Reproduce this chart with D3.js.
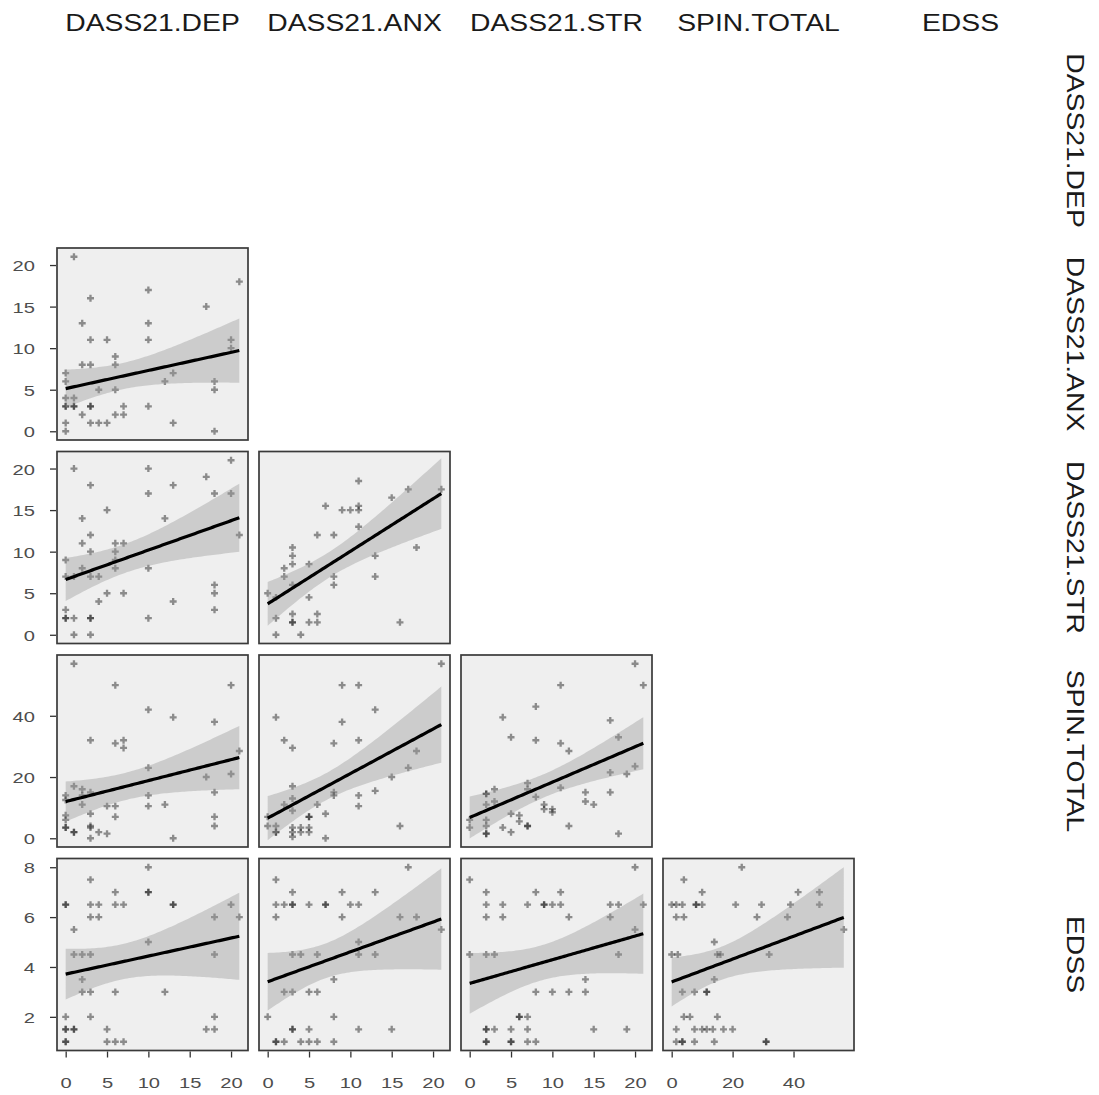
<!DOCTYPE html>
<html>
<head>
<meta charset="utf-8">
<title>pairs</title>
<style>
  body { margin: 0; background: #fff; }
  svg { display: block; font-family: "Liberation Sans", Arial, sans-serif; }
</style>
</head>
<body>
<svg id="chart" width="1099" height="1095"></svg>
<script src="https://d3js.org/d3.v7.min.js"></script>
<script>
// variable names, ranges, ticks
const varNames = ["DASS21.DEP", "DASS21.ANX", "DASS21.STR", "SPIN.TOTAL", "EDSS"];
const varRanges = [[0, 21], [0, 21], [0, 21], [0, 57], [1, 8]];
const varTicks = [[0, 5, 10, 15, 20], [0, 5, 10, 15, 20], [0, 5, 10, 15, 20], [0, 20, 40], [2, 4, 6, 8]];

// points per panel [x, y]
const depAnx = [[1,21],[0,7],[0,6],[0,4],[1,4],[0,3],[0,3],[1,3],[1,3],[3,3],[3,3],[0,1],[0,0],[2,2],[2,13],[2,8],[3,8],[3,16],[3,11],[3,1],[4,1],[5,1],[4,5],[5,11],[6,9],[6,8],[6,5],[6,2],[7,3],[7,2],[10,17],[10,13],[10,11],[10,3],[12,6],[13,7],[13,1],[17,15],[18,6],[18,5],[18,0],[20,11],[20,10],[21,18]];
const depStr = [[0,9],[0,7],[0,3],[0,2],[0,2],[1,20],[1,7],[1,2],[1,0],[2,14],[2,11],[2,8],[3,18],[3,12],[3,10],[3,7],[3,2],[3,2],[3,0],[4,7],[4,4],[5,15],[5,5],[6,11],[6,10],[6,9],[6,8],[7,11],[7,5],[10,20],[10,17],[10,8],[10,2],[12,14],[13,18],[13,4],[17,19],[18,17],[18,6],[18,5],[18,3],[20,21],[20,17],[21,12]];
const anxStr = [[0,5],[1,4.5],[1,2],[1,0],[2,8],[2,7],[3,10.5],[3,9.5],[3,8.5],[3,6],[3,2.5],[3,1.5],[3,1.5],[4,0],[5,8.5],[5,4.5],[5,1.5],[6,12],[6,2.5],[6,1.5],[7,15.5],[8,12],[8,7],[8,6],[9,15],[10,15],[11,18.5],[11,15.5],[11,15],[11,13],[13,9.5],[13,7],[15,16.5],[16,1.5],[17,17.5],[18,10.5],[21,17.5]];
const depSpin = [[1,57],[6,50],[20,50],[10,42],[13,39.5],[18,38],[3,32],[6,31],[7,32],[7,29.5],[21,28.5],[10,23],[20,21],[17,20],[1,17],[2,16],[2,14],[0,14],[0,12.5],[3,15],[10,14],[18,15],[2,11],[5,10.5],[6,10.5],[10,10.5],[12,11],[0,7.5],[0,6],[3,8],[6,7],[3,4],[3,3.5],[1,2],[1,2],[4,2],[5,1.5],[3,0],[13,0],[18,7],[18,4],[0,3.5],[0,3.5]];
const anxSpin = [[21,57],[9,50],[11,50],[1,39.5],[9,38],[13,42],[2,32],[3,29.5],[8,31],[11,32],[18,28.5],[17,23],[15,20],[3,17],[3,13],[8,15],[8,14],[11,14],[13,15.5],[2,11],[3,9],[6,11],[7,8],[11,10.5],[16,4],[0,7],[0,4],[1,4],[1,2],[1,2],[3,3.5],[3,2],[3,0.5],[4,3.5],[4,2],[5,7],[5,7],[5,3.5],[5,2],[7,0]];
const strSpin = [[20,57],[21,50],[11,50],[8,43],[4,39.5],[17,38.5],[5,33],[8,32],[11,31],[12,28.5],[18,33],[17,21.5],[20,23.5],[19,21],[7,18],[7,16],[3,16],[2,14.5],[2,14.5],[11,16.5],[3,12],[2,11],[8,13.5],[9,11],[9,9.5],[10,9.5],[10,8.5],[14,15],[14,12],[15,11],[17,15],[0,6],[0,3.5],[2,6],[2,4],[2,1.5],[2,1.5],[5,8],[6,7.5],[6,5.5],[4,3.5],[5,2],[7,4],[7,4],[12,4],[18,1.5]];
const depEdss = [[10,8],[3,7.5],[6,7],[10,7],[10,7],[0,6.5],[0,6.5],[3,6.5],[4,6.5],[6,6.5],[7,6.5],[13,6.5],[13,6.5],[20,6.5],[3,6],[4,6],[18,6],[21,6],[1,5.5],[10,5],[1,4.5],[2,4.5],[3,4.5],[18,4.5],[2,3.5],[2,3],[3,3],[6,3],[12,3],[0,2],[3,2],[18,2],[0,1.5],[0,1.5],[1,1.5],[1,1.5],[5,1.5],[17,1.5],[18,1.5],[0,1],[0,1],[5,1],[6,1],[7,1]];
const anxEdss = [[1,7.5],[3,7],[9,7],[13,7],[17,8],[1,6.5],[2,6.5],[3,6.5],[3,6.5],[5,6.5],[7,6.5],[7,6.5],[10,6.5],[11,6.5],[1,6],[9,6],[16,6],[18,6],[21,5.5],[11,5],[3,4.5],[4,4.5],[6,4.5],[11,4.5],[13,4.5],[8,3.5],[2,3],[3,3],[5,3],[6,3],[0,2],[8,2],[3,1.5],[3,1.5],[5,1.5],[11,1.5],[15,1.5],[1,1],[1,1],[2,1],[4,1],[5,1],[6,1],[8,1]];
const strEdss = [[0,7.5],[20,8],[2,7],[8,7],[11,7],[2,6.5],[4,6.5],[7,6.5],[9,6.5],[9,6.5],[10,6.5],[11,6.5],[17,6.5],[18,6.5],[21,6.5],[2,6],[4,6],[12,6],[17,6],[20,5.5],[0,4.5],[2,4.5],[3,4.5],[18,4.5],[14,3.5],[8,3],[10,3],[12,3],[14,3],[6,2],[6,2],[7,2],[2,1.5],[2,1.5],[3,1.5],[5,1.5],[7,1.5],[15,1.5],[19,1.5],[2,1],[2,1],[5,1],[5,1],[7,1],[8,1]];
const spinEdss = [[23,8],[4,7.5],[10,7],[41.5,7],[48.5,7],[0,6.5],[1.5,6.5],[3.5,6.5],[8,6.5],[8,6.5],[10,6.5],[21,6.5],[29.5,6.5],[39,6.5],[48.5,6.5],[1.5,6],[4,6],[28,6],[38,6],[56.5,5.5],[14,5],[0,4.5],[2,4.5],[15,4.5],[16,4.5],[32,4.5],[14,3.5],[3.5,3],[7.5,3],[11.5,3],[11.5,3],[4,2],[6,2],[15,2],[1.5,1.5],[7.5,1.5],[10,1.5],[11.5,1.5],[13.5,1.5],[17,1.5],[20,1.5],[1.5,1],[3.5,1],[3.5,1],[7.5,1],[14,1],[31,1],[31,1]];

// [row, col, points]
const panels = [
  [1, 0, depAnx],
  [2, 0, depStr], [2, 1, anxStr],
  [3, 0, depSpin], [3, 1, anxSpin], [3, 2, strSpin],
  [4, 0, depEdss], [4, 1, anxEdss], [4, 2, strEdss], [4, 3, spinEdss]
];

const svg = d3.select("#chart");
const colX0 = 57, colStep = 202, pw = 191;
const rowY0 = 44.5, rowStep = 203.5, ph = 192;

function expand(r) {
  const p = (r[1] - r[0]) * 0.05;
  return [r[0] - p, r[1] + p];
}

// t quantile approx (0.975)
function tq(df) {
  const z = 1.959964;
  return z + (z ** 3 + z) / (4 * df) + (5 * z ** 5 + 16 * z ** 3 + 3 * z) / (96 * df * df);
}

function fit(pts) {
  const n = pts.length;
  const mx = d3.mean(pts, d => d[0]), my = d3.mean(pts, d => d[1]);
  let sxx = 0, sxy = 0;
  pts.forEach(d => { sxx += (d[0] - mx) ** 2; sxy += (d[0] - mx) * (d[1] - my); });
  const b = sxy / sxx, a = my - b * mx;
  let sse = 0;
  pts.forEach(d => { sse += (d[1] - a - b * d[0]) ** 2; });
  const s = Math.sqrt(sse / (n - 2)), t = tq(n - 2);
  const [x0, x1] = d3.extent(pts, d => d[0]);
  return d3.range(80).map(i => {
    const x = x0 + (x1 - x0) * i / 79;
    const y = a + b * x;
    const se = s * Math.sqrt(1 / n + (x - mx) ** 2 / sxx);
    return { x, y, lo: y - t * se, hi: y + t * se };
  });
}

const cross = d3.symbol().type(d3.symbolCross).size(27);

panels.forEach(([r, c, pts]) => {
  const left = colX0 + c * colStep, top = rowY0 + r * rowStep;
  const x = d3.scaleLinear().domain(expand(varRanges[c])).range([left, left + pw]);
  const y = d3.scaleLinear().domain(expand(varRanges[r])).range([top + ph, top]);
  const g = svg.append("g");
  g.append("rect").attr("x", left).attr("y", top).attr("width", pw).attr("height", ph)
    .attr("fill", "#efefef");
  g.selectAll("path.pt").data(pts).enter().append("path")
    .attr("class", "pt")
    .attr("d", cross)
    .attr("transform", d => `translate(${x(d[0])},${y(d[1])})`)
    .attr("fill", "#000").attr("fill-opacity", 0.42);
  const f = fit(pts);
  g.append("path").datum(f)
    .attr("d", d3.area().x(d => x(d.x)).y0(d => y(d.lo)).y1(d => y(d.hi)))
    .attr("fill", "#999").attr("fill-opacity", 0.4);
  g.append("path").datum(f)
    .attr("d", d3.line().x(d => x(d.x)).y(d => y(d.y)))
    .attr("fill", "none").attr("stroke", "#000").attr("stroke-width", 3.2);
  g.append("rect").attr("x", left).attr("y", top).attr("width", pw).attr("height", ph)
    .attr("fill", "none").attr("stroke", "#3a3a3a").attr("stroke-width", 1.7);

  // left axis for first column
  if (c === 0) {
    const ya = svg.append("g").attr("transform", `translate(${left - 1},0)`)
      .call(d3.axisLeft(y).tickValues(varTicks[r]).tickSize(6).tickPadding(6));
    ya.select(".domain").remove();
    ya.selectAll("line").attr("stroke", "#333").attr("stroke-width", 1.3);
    ya.selectAll("text").attr("fill", "#4d4d4d").attr("font-size", 15.5)
      .attr("font-family", "Liberation Sans, Arial, sans-serif")
      .attr("x", 0).attr("dy", "0.36em")
      .attr("transform", "translate(-21,0) scale(1.3,1)");
  }
  // bottom axis for last row
  if (r === 4) {
    const xa = svg.append("g").attr("transform", `translate(0,${top + ph + 1})`)
      .call(d3.axisBottom(x).tickValues(varTicks[c]).tickSize(6).tickPadding(20));
    xa.select(".domain").remove();
    xa.selectAll("line").attr("stroke", "#333").attr("stroke-width", 1.3);
    xa.selectAll("text").attr("fill", "#4d4d4d").attr("font-size", 15.5)
      .attr("font-family", "Liberation Sans, Arial, sans-serif")
      .attr("transform", "scale(1.3,1)");
  }
});

// strip labels
varNames.forEach((name, i) => {
  const cx = colX0 + i * colStep + pw / 2;
  svg.append("text")
    .attr("transform", `translate(${cx},23) scale(1.18,1)`)
    .attr("text-anchor", "middle").attr("dominant-baseline", "central")
    .attr("font-size", 24).attr("fill", "#1a1a1a").text(name);
  const cy = rowY0 + i * rowStep + ph / 2;
  svg.append("text")
    .attr("transform", `translate(1075,${cy}) rotate(90) scale(1.18,1)`)
    .attr("text-anchor", "middle").attr("dominant-baseline", "central")
    .attr("font-size", 24).attr("fill", "#1a1a1a").text(name);
});
</script>
</body>
</html>
